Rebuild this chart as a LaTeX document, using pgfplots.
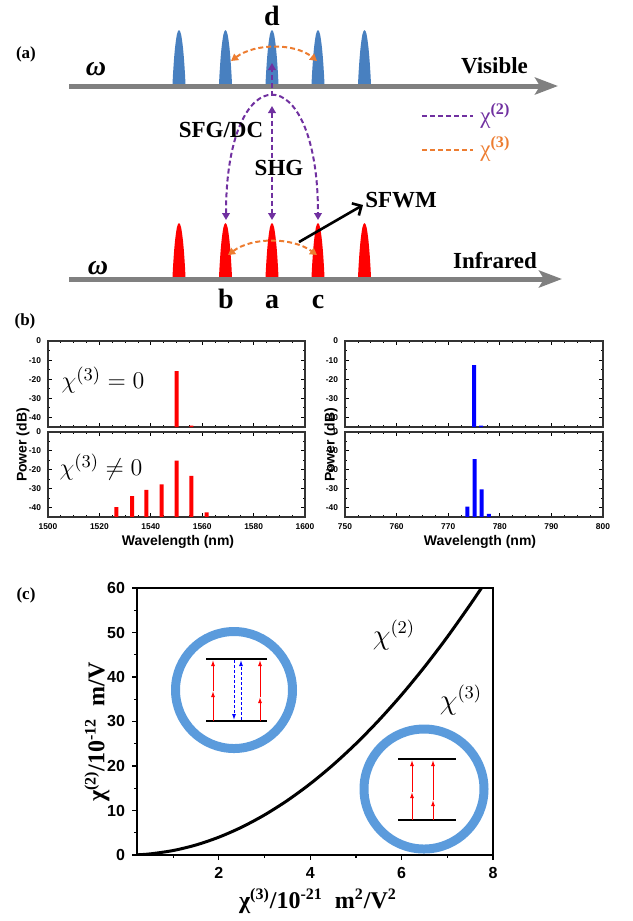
\documentclass[border=0pt]{standalone}
\usepackage{pgfplots}
\pgfplotsset{compat=1.18}
\usepackage{pgfplotstable}
\usetikzlibrary{arrows.meta}
\usepackage{fontspec}
\setmainfont{Liberation Serif}
\newfontfamily\arialf{Liberation Sans}
\definecolor{peakblue}{RGB}{72,128,192}
\definecolor{ringblue}{RGB}{91,155,220}
\definecolor{cpurple}{RGB}{112,48,160}
\definecolor{corange}{RGB}{237,125,49}
\definecolor{axgray}{RGB}{128,128,128}

% peak shape (pixel units): offset from centre, height above base
\pgfplotstableread{
dx h
-6.5 0
-6.2 8
-5.6 18
-4.9 28
-4.0 38
-3.0 46
-2.0 52
-1.0 55
0 56
1.0 55
2.0 52
3.0 46
4.0 38
4.9 28
5.6 18
6.2 8
6.5 0
}\peak

\pgfplotstableread{
w p
1550.0 -15.8
1555.8 -44.3
}\LT
\pgfplotstableread{
w p
1526.6 -39.8
1532.7 -33.9
1538.3 -30.7
1544.2 -27.7
1550.0 -15.1
1555.8 -23.2
1561.7 -42.6
}\LB
\pgfplotstableread{
w p
775.0 -12.6
776.4 -44.3
}\RT
\pgfplotstableread{
w p
773.7 -39.5
775.1 -14.3
776.5 -30.4
777.9 -43.3
}\RB
\pgfplotstableread{
x y
0.21 0.04
0.5 0.25
1.0 1.0
1.5 2.25
2.0 4.0
2.5 6.25
3.0 9.0
3.5 12.25
4.0 16.0
4.5 20.25
5.0 25.0
5.5 30.25
6.0 36.0
6.5 42.25
7.0 49.0
7.5 56.25
7.76 60.2
}\curve

\pgfplotsset{
  bpanel/.style={scale only axis, anchor=north west, ymin=0, ymax=45,
    ytick={5,15,25,35,45}, yticklabels={-40,-30,-20,-10,0},
    minor y tick num=1, minor x tick num=3, tick align=inside,
    axis line style={line width=0.6pt, black!80},
    major tick length=2pt, minor tick length=1.2pt,
    tick style={black, line width=0.4pt},
    tick label style={font=\arialf\bfseries\fontsize{4.2}{5}\selectfont},
    /pgf/number format/assume math mode=true,
    /pgf/number format/1000 sep={}},
}
\tikzset{
  pd/.style={cpurple, line width=1pt, dash pattern=on 2.5pt off 1.5pt},
  od/.style={corange, line width=1pt, dash pattern=on 2.5pt off 1.5pt},
}

\begin{document}
\begin{tikzpicture}
\path[use as bounding box] (0,0) rectangle (316pt,-460.5pt);

% ---------------- panel (b) ----------------
\begin{axis}[bpanel, at={(24pt,-170.5pt)}, width=128.5pt, height=43pt,
  xmin=1500, xmax=1600, xtick={1500,1520,...,1600}, xticklabels={}]
\addplot[ybar, bar width=2pt, fill=red, draw=none] table[x=w, y expr=\thisrow{p}+45] {\LT};
\end{axis}
\begin{axis}[bpanel, at={(24pt,-216pt)}, width=128.5pt, height=42.5pt,
  xmin=1500, xmax=1600, xtick={1500,1520,...,1600}]
\addplot[ybar, bar width=2pt, fill=red, draw=none] table[x=w, y expr=\thisrow{p}+45] {\LB};
\end{axis}
\begin{axis}[bpanel, at={(172.5pt,-170.5pt)}, width=129pt, height=43pt,
  xmin=750, xmax=800, xtick={750,760,...,800}, xticklabels={}]
\addplot[ybar, bar width=2pt, fill=blue, draw=none] table[x=w, y expr=\thisrow{p}+45] {\RT};
\end{axis}
\begin{axis}[bpanel, at={(172.5pt,-216pt)}, width=129pt, height=42.5pt,
  xmin=750, xmax=800, xtick={750,760,...,800}]
\addplot[ybar, bar width=2pt, fill=blue, draw=none] table[x=w, y expr=\thisrow{p}+45] {\RB};
\end{axis}

% ---------------- panel (c) ----------------
\begin{axis}[at={(68.5pt,-294pt)}, anchor=north west, scale only axis,
  width=178pt, height=133.5pt,
  xmin=0.21, xmax=8, ymin=0, ymax=60,
  xtick={2,4,6,8}, minor xtick={1,3,5,7},
  ytick={0,10,...,60}, minor ytick={5,15,...,55},
  tick align=outside, xtick pos=left, ytick pos=left,
  major tick length=2.5pt, minor tick length=1.5pt,
  axis line style={line width=0.7pt},
  tick style={black, line width=0.6pt},
  tick label style={font=\arialf\bfseries\fontsize{8}{9}\selectfont},
  /pgf/number format/assume math mode=true]
\addplot[black, line width=1.5pt, smooth] table[x=x, y=y] {\curve};
\end{axis}

% ---------------- overlay in pixel coordinates: panel (a) and annotations ----------------
\begin{axis}[at={(0pt,0pt)}, anchor=north west, scale only axis,
  width=316pt, height=460.5pt, xmin=0, xmax=632, ymin=0, ymax=921,
  y dir=reverse, hide axis, clip=false]
% peaks
\pgfplotsinvokeforeach{179,225.5,272,318,364.5}{
  \addplot[fill=peakblue, draw=none, smooth, tension=0.5] table[x expr=\thisrow{dx}+#1, y expr=86-\thisrow{h}] {\peak};
  \addplot[fill=red, draw=none, smooth, tension=0.5] table[x expr=\thisrow{dx}+#1, y expr=279-\thisrow{h}] {\peak};
}
% frequency axes
\draw[axgray, line width=2.5pt, -{Stealth[length=11.5pt,width=8.5pt,inset=2.5pt]}] (axis cs:69,86) -- (axis cs:558,86);
\draw[axgray, line width=2.5pt, -{Stealth[length=11.5pt,width=8.5pt,inset=2.5pt]}] (axis cs:69,279) -- (axis cs:562,279);
% chi(2) processes
\draw[pd, {Triangle[length=3.5pt,width=3.8pt]}-{Triangle[length=3.5pt,width=3.8pt]}] (axis cs:272,106) -- (axis cs:272,220);
\draw[pd, {Triangle[length=3.5pt,width=3.8pt]}-{Triangle[length=3.5pt,width=3.8pt]}] (axis cs:226,220) .. controls (axis cs:226,55) and (axis cs:318,55) .. (axis cs:318,220);
\draw[pd, -{Triangle[length=3.5pt,width=3.8pt]}] (axis cs:272,96) -- (axis cs:272,63);
% chi(3) arcs
\draw[od, {Triangle[length=3.5pt,width=3.8pt]}-{Triangle[length=3.5pt,width=3.8pt]}] (axis cs:231,61) .. controls (axis cs:255,43) and (axis cs:295,43) .. (axis cs:317,61);
\draw[od, {Triangle[length=3.5pt,width=3.8pt]}-{Triangle[length=3.5pt,width=3.8pt]}] (axis cs:228,255) .. controls (axis cs:252,237) and (axis cs:292,237) .. (axis cs:317,255);
% SFWM arrow
\draw[black, line width=1.3pt, -{Straight Barb[length=3.5pt,width=7pt]}] (axis cs:299,242) -- (axis cs:363,205);
% legend
\draw[pd] (axis cs:422,116) -- (axis cs:473,116);
\draw[od] (axis cs:422,150) -- (axis cs:473,150);
\node[anchor=base west, cpurple, inner sep=0pt, font=\fontsize{11.5}{13}\selectfont] at (axis cs:480,123) {χ\textsuperscript{\bfseries(2)}};
\node[anchor=base west, corange, inner sep=0pt, font=\fontsize{11.5}{13}\selectfont] at (axis cs:480,156) {χ\textsuperscript{\bfseries(3)}};
% texts (a)
\node[font=\bfseries\fontsize{8.5}{10}\selectfont] at (axis cs:26,54) {(a)};
\node[anchor=base, inner sep=0pt, font=\bfseries\fontsize{14}{16}\selectfont] at (axis cs:272,25) {d};
\node[anchor=base, inner sep=0pt, font=\bfseries\fontsize{14}{16}\selectfont] at (axis cs:226,308) {b};
\node[anchor=base, inner sep=0pt, font=\bfseries\fontsize{14}{16}\selectfont] at (axis cs:272,308) {a};
\node[anchor=base, inner sep=0pt, font=\bfseries\fontsize{14}{16}\selectfont] at (axis cs:318,308) {c};
\node[anchor=base, inner sep=0pt, font=\bfseries\itshape\fontsize{14}{16}\selectfont] at (axis cs:96,75) {ω};
\node[anchor=base, inner sep=0pt, font=\bfseries\itshape\fontsize{14}{16}\selectfont] at (axis cs:98,274) {ω};
\node[anchor=base, inner sep=0pt, font=\bfseries\fontsize{11.5}{13}\selectfont] at (axis cs:494.5,73) {Visible};
\node[anchor=base, inner sep=0pt, font=\bfseries\fontsize{11.5}{13}\selectfont] at (axis cs:495,268) {Infrared};
\node[anchor=base, inner sep=0pt, font=\bfseries\fontsize{11.5}{13}\selectfont] at (axis cs:221,137) {SFG/DC};
\node[anchor=base, inner sep=0pt, font=\bfseries\fontsize{11.5}{13}\selectfont] at (axis cs:279,175) {SHG};
\node[anchor=base west, inner sep=0pt, font=\bfseries\fontsize{11.5}{13}\selectfont] at (axis cs:365,207) {SFWM};
% texts (b)
\node[font=\bfseries\fontsize{8.5}{10}\selectfont] at (axis cs:25,321) {(b)};
\node[font=\fontsize{13}{15}\selectfont] at (axis cs:103,380) {$\chi^{(3)}=0$};
\node[font=\fontsize{13}{15}\selectfont] at (axis cs:101,467) {$\chi^{(3)}\neq 0$};
\node[rotate=90, font=\arialf\bfseries\fontsize{7}{8}\selectfont] at (axis cs:23,445) {Power (dB)};
\node[rotate=90, font=\arialf\bfseries\fontsize{7}{8}\selectfont] at (axis cs:331,445) {Power (dB)};
\node[font=\arialf\bfseries\fontsize{7}{8}\selectfont] at (axis cs:178,542) {Wavelength (nm)};
\node[font=\arialf\bfseries\fontsize{7}{8}\selectfont] at (axis cs:480,542) {Wavelength (nm)};
% texts (c)
\node[font=\bfseries\fontsize{8.5}{10}\selectfont] at (axis cs:26,595) {(c)};
\node[rotate=90, font=\bfseries\fontsize{12}{14}\selectfont] at (axis cs:97,732) {χ\textsuperscript{(2)}/10\textsuperscript{-12}\ \ m/V};
\node[font=\bfseries\fontsize{12}{14}\selectfont] at (axis cs:318,901) {χ\textsuperscript{(3)}/10\textsuperscript{-21}\ \ m\textsuperscript{2}/V\textsuperscript{2}};
\node[font=\fontsize{13.5}{15}\selectfont] at (axis cs:394,635) {$\chi^{(2)}$};
\node[font=\fontsize{13.5}{15}\selectfont] at (axis cs:461,700) {$\chi^{(3)}$};
% insets (c)
\draw[ringblue, line width=4.5pt] (axis cs:234,690) circle[radius=29.25pt];
\draw[ringblue, line width=4.5pt] (axis cs:424,789) circle[radius=30pt];
\draw[black, line width=1pt] (axis cs:206,659) -- (axis cs:267,659);
\draw[black, line width=1pt] (axis cs:206,721) -- (axis cs:267,721);
\draw[red, line width=0.5pt, -{Latex[length=3pt,width=2pt]}] (axis cs:213,721) -- (axis cs:213,691);
\draw[red, line width=0.5pt, -{Latex[length=3pt,width=2pt]}] (axis cs:213,691) -- (axis cs:213,660);
\draw[red, line width=0.5pt, -{Latex[length=3pt,width=2pt]}] (axis cs:260,721) -- (axis cs:260,697);
\draw[red, line width=0.5pt, -{Latex[length=3pt,width=2pt]}] (axis cs:260,697) -- (axis cs:260,660);
\draw[blue, line width=0.5pt, dash pattern=on 1.5pt off 1pt, -{Latex[length=3pt,width=2pt]}] (axis cs:234,660) -- (axis cs:234,720);
\draw[blue, line width=0.5pt, dash pattern=on 1.5pt off 1pt, -{Latex[length=3pt,width=2pt]}] (axis cs:241,720) -- (axis cs:241,660);
\draw[black, line width=1pt] (axis cs:398,759) -- (axis cs:456,759);
\draw[black, line width=1pt] (axis cs:398,820) -- (axis cs:456,820);
\draw[red, line width=0.5pt, -{Latex[length=3pt,width=2pt]}] (axis cs:412,820) -- (axis cs:412,792);
\draw[red, line width=0.5pt, -{Latex[length=3pt,width=2pt]}] (axis cs:412,792) -- (axis cs:412,760);
\draw[red, line width=0.5pt, -{Latex[length=3pt,width=2pt]}] (axis cs:433,820) -- (axis cs:433,800);
\draw[red, line width=0.5pt, -{Latex[length=3pt,width=2pt]}] (axis cs:433,800) -- (axis cs:433,760);
\end{axis}
\end{tikzpicture}
\end{document}
